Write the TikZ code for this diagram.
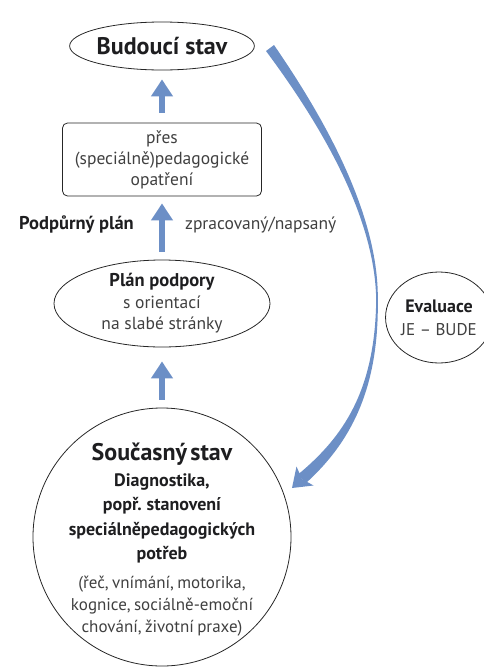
\documentclass[tikz,border=0pt]{standalone}
\usepackage{fontspec}
\setmainfont{PT Sans}
\usetikzlibrary{arrows.meta,shapes.geometric}
\definecolor{arrowblue}{RGB}{108,143,198}
\definecolor{txtgray}{RGB}{64,64,64}
\definecolor{txtdark}{RGB}{30,30,32}
\tikzset{
  ringnode/.style={draw=black!85, line width=0.8pt, inner sep=0pt, align=center, text=txtdark},
  uparrow/.style={draw=arrowblue, line width=6pt, -{Triangle[width=21pt,length=17pt]}},
}
\newcommand{\gtext}[1]{{\color{txtgray}#1}}
\begin{document}
\begin{tikzpicture}[x=1pt,y=-1pt]
\useasboundingbox (0,0) rectangle (483,672);

% states and plan
\node[ringnode, ellipse, minimum width=181pt, minimum height=48pt,
      font=\fontsize{24}{28}\selectfont\bfseries] (budouci) at (162,46) {Budoucí stav};
\node[ringnode, rectangle, rounded corners=5pt, minimum width=199pt, minimum height=73pt,
      font=\fontsize{17.5}{21}\selectfont] (opatreni) at (162,159.5)
{\gtext{přes}\\ \gtext{(speciálně)pedagogické}\\ \gtext{opatření}};
\node[ringnode, ellipse, minimum width=216pt, minimum height=87pt,
      font=\fontsize{17.5}{21.5}\selectfont] (plan) at (162,303.5)
{{\fontsize{18.5}{21.5}\selectfont\bfseries Plán podpory}\\ \gtext{s orientací}\\ \gtext{na slabé stránky}};
\node[ringnode, circle, minimum size=258pt] (soucasny) at (162,537) {};
\node[text width=250pt, align=center, inner sep=0pt, text=txtdark] (soucasnytext) at (162,540)
{{\fontsize{24}{27}\selectfont\bfseries Současný stav\par}
 \vspace{1pt}
 {\fontsize{18}{24.5}\selectfont\bfseries Diagnostika,\\ popř. stanovení\\ speciálněpedagogických\\ potřeb\par}
 \vspace{7pt}
 {\fontsize{17}{22}\selectfont\color{txtgray}(řeč, vnímání, motorika,\\ kognice, sociálně-emoční\\ chování, životní praxe)\par}};
\node[ringnode, ellipse, minimum width=104pt, minimum height=91pt,
      font=\fontsize{17}{23}\selectfont] (evaluace) at (439,317.5)
{{\fontsize{18}{23}\selectfont\bfseries Evaluace}\\ \gtext{JE – BUDE}};

% labels beside the middle arrow
\node[anchor=base east, inner sep=0pt, text=txtdark, font=\fontsize{18.5}{20}\selectfont\bfseries]
  (podpurny) at (134,229) {Podpůrný plán};
\node[anchor=base west, inner sep=0pt, text=txtgray, font=\fontsize{17.5}{20}\selectfont]
  (zpracovany) at (185,229) {zpracovaný/napsaný};

% straight arrows
\draw[uparrow, shorten <=10pt, shorten >=9pt] (opatreni.north) -- (budouci.south);
\draw[uparrow, shorten <=8pt, shorten >=7pt] (plan.north) -- (opatreni.south);
\draw[uparrow, shorten <=8pt, shorten >=14pt] (soucasny.north) -- (plan.south);

% tapered evaluation arc
\coordinate (arcstart) at (270,48);
\coordinate (arctip) at (292,488);
\fill[arrowblue] (274,45) .. controls (318,109) and (379,210) .. (377.8,300)
  .. controls (379,390) and (350,443) .. (306,483)
  -- (298,474.5) .. controls (344,436.5) and (375,390) .. (376.2,300)
  .. controls (375,210) and (312,113) .. (266,51) -- cycle;
\fill[arrowblue] (arctip) -- (296.5,466.5) -- (302,479) -- (313.5,485.5) -- cycle;
\end{tikzpicture}
\end{document}
